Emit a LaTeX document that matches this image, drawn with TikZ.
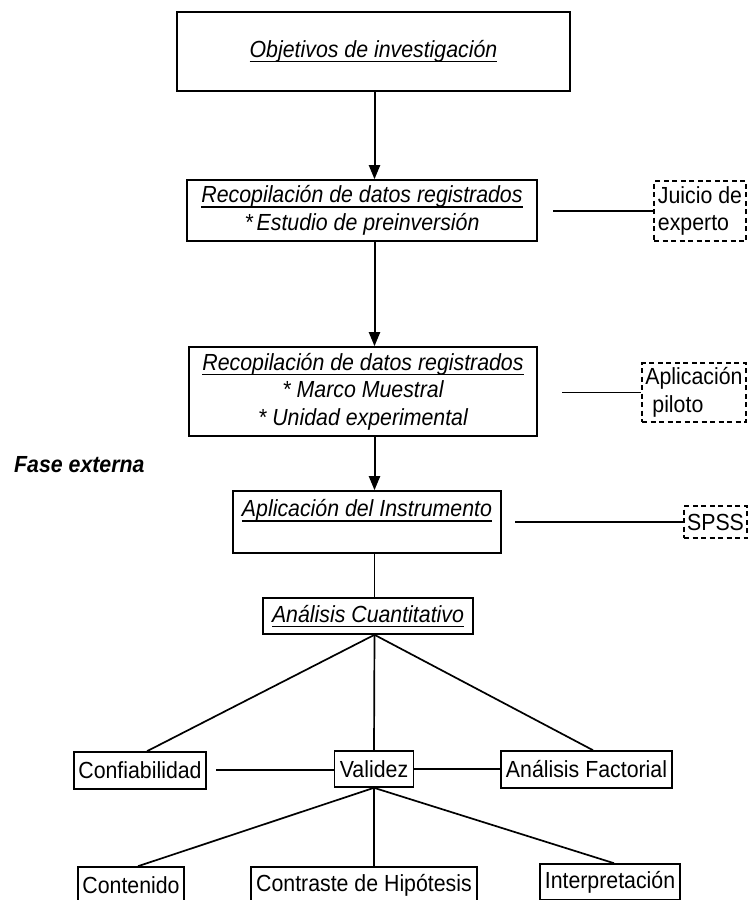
\documentclass[tikz,border=0pt]{standalone}
\usepackage{fontspec}
\setmainfont{Liberation Sans}[FakeStretch=0.915]
\usetikzlibrary{arrows.meta}
% underline drawn as a rule below the baseline
\newcommand\ulin[1]{\setbox0=\hbox{#1}\rlap{\rule[-4.8pt]{\wd0}{1.4pt}}\box0}
\newcommand\diagfont{\fontsize{23.3}{27.5}\selectfont}
\begin{document}
\begin{tikzpicture}[x=1pt,y=-1pt,
  txt/.style={font=\diagfont, inner sep=0pt, align=center},
  box/.style={txt, draw, line width=1.6pt, rectangle},
  itbox/.style={box, font=\diagfont\itshape},
  dbox/.style={txt, draw, line width=1.4pt, dash pattern=on 5pt off 3.5pt, align=left},
  link/.style={line width=1.7pt},
  arr/.style={line width=2pt, -{Triangle[width=11pt,length=14pt]}},
]
\useasboundingbox (0,0) rectangle (749,900);
\clip (0,0) rectangle (749,900);

% main column
\node[itbox, minimum width=393pt, minimum height=79pt] (obj) at (373.5,51.5)
  {\ulin{Objetivos de investigación}};
\node[itbox, minimum width=350pt, minimum height=61pt] (rec1) at (362,210.5)
  {\ulin{Recopilación de datos registrados}\\ {*}\,Estudio de preinversión};
\node[itbox, minimum width=348pt, minimum height=89pt] (rec2) at (363,391.5)
  {\ulin{Recopilación de datos registrados}\\ {*} Marco Muestral\\ {*} Unidad experimental};
\node[itbox, minimum width=268pt, minimum height=62pt] (apl) at (367,522)
  {\ulin{Aplicación del Instrumento}\\ \mbox{}};
\node[itbox, minimum width=210pt, minimum height=36pt] (ac) at (368,616)
  {\ulin{Análisis Cuantitativo}};

% second level
\node[box, minimum width=132pt, minimum height=37pt] (conf) at (140,770.5) {Confiabilidad};
\node[box, minimum width=79pt, minimum height=36pt] (val) at (374,769) {Validez};
\node[box, minimum width=171pt, minimum height=37pt] (af) at (586.5,769.5) {Análisis Factorial};

% third level
\node[box, minimum width=106pt, minimum height=36pt] (cont) at (131,885) {Contenido};
\node[box, minimum width=226pt, minimum height=36pt] (contr) at (364,885) {Contraste de Hipótesis};
\node[box, minimum width=140pt, minimum height=36pt] (interp) at (610,882) {Interpretación};

% side notes
\node[dbox, minimum width=92pt, minimum height=60pt] (jui) at (700,211) {Juicio de\\experto};
\node[dbox, minimum width=104pt, minimum height=59pt] (apil) at (694,392.5) {Aplicación\\\hspace*{0.3em}piloto};
\node[dbox, minimum width=63pt, minimum height=32pt] (spss) at (715.5,522) {SPSS};

\node[txt, font=\diagfont\bfseries\itshape, anchor=base west] (fase) at (14,472) {Fase externa};

% connectors
\coordinate (spine) at (374.5,0);
\draw[arr] (obj.south -| spine) -- (rec1.north -| spine);
\draw[arr] (rec1.south -| spine) -- (rec2.north -| spine);
\draw[arr] (rec2.south -| spine) -- (apl.north -| spine);
\draw[link] (apl.south -| spine) -- (ac.north -| spine);

\coordinate (apex) at (ac.south -| spine);
\draw[link] (apex) -- ([xshift=7pt]conf.north);
\draw[link] (apex) -- (val.north);
\draw[link] (apex) -- ([xshift=6.5pt]af.north);

\coordinate (c1) at (216,770);
\draw[link] (c1) -- (c1 -| val.west);
\draw[link] (val.east) -- (val.east -| af.west);

\draw[link] (val.south) -- ([xshift=7pt]cont.north);
\draw[link] (val.south) -- (val.south |- contr.north);
\draw[link] (val.south) -- ([xshift=4pt]interp.north);

\coordinate (j0) at (553,211);
\draw[link] (j0) -- (jui.west);
\coordinate (a0) at (562,392.5);
\draw[link] (a0) -- (apil.west);
\coordinate (s0) at (515,522);
\draw[link] (s0) -- (spss.west);
\end{tikzpicture}
\end{document}
